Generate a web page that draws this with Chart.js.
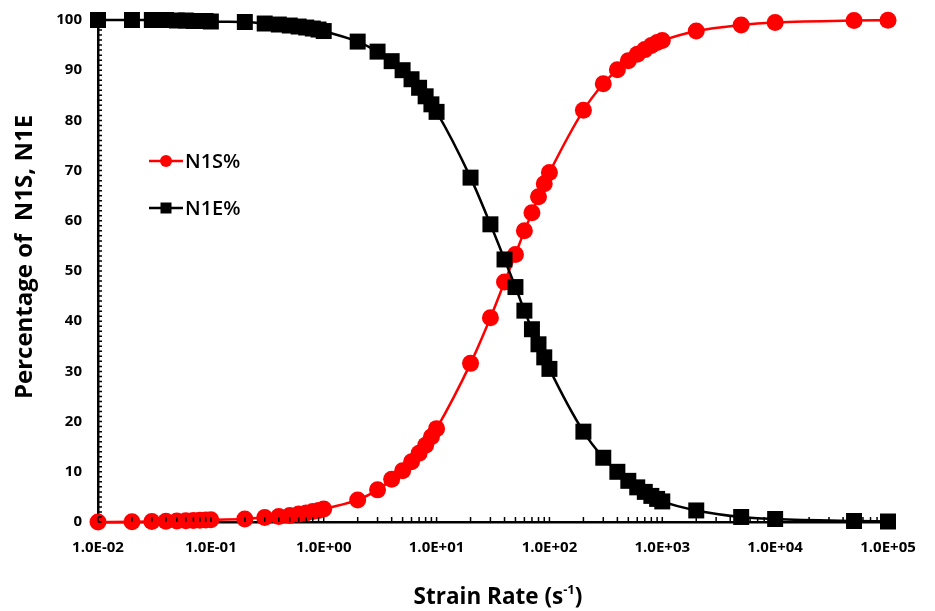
<!DOCTYPE html>
<html>
<head>
<meta charset="utf-8">
<script src="https://cdn.jsdelivr.net/npm/chart.js@4"></script>
<style>
  html, body { margin: 0; padding: 0; background: #fff; }
  #wrap { width: 935px; height: 611px; }
</style>
</head>
<body>
<div id="wrap"><canvas id="strainChart" width="935" height="611"></canvas></div>
<script>
// strain rate (s-1) for every measured point
const strainRate = [0.01, 0.02, 0.03, 0.04, 0.05, 0.06, 0.07, 0.08, 0.09, 0.1,
    0.2, 0.3, 0.4, 0.5, 0.6, 0.7, 0.8, 0.9, 1,
    2, 3, 4, 5, 6, 7, 8, 9, 10,
    20, 30, 40, 50, 60, 70, 80, 90, 100,
    200, 300, 400, 500, 600, 700, 800, 900, 1000,
    2000, 5000, 10000, 50000, 100000];

const n1s = [0, 0.05, 0.1, 0.15, 0.2, 0.25, 0.3, 0.35, 0.4, 0.45,
    0.6, 0.9, 1.1, 1.3, 1.6, 1.8, 2.1, 2.3, 2.6,
    4.4, 6.4, 8.5, 10.2, 12.0, 13.7, 15.3, 17.0, 18.6,
    31.6, 40.7, 47.8, 53.3, 58.0, 61.6, 64.8, 67.4, 69.6,
    82.0, 87.3, 90.1, 91.9, 93.2, 94.1, 94.9, 95.5, 95.9,
    97.8, 99.0, 99.5, 99.9, 99.95];

const n1e = [100, 100, 100, 100, 99.9, 99.9, 99.8, 99.8, 99.8, 99.7,
    99.6, 99.3, 99.1, 98.9, 98.7, 98.5, 98.3, 98.1, 97.8,
    95.7, 93.7, 91.8, 90.0, 88.2, 86.5, 84.8, 83.2, 81.7,
    68.6, 59.3, 52.3, 46.8, 42.1, 38.4, 35.4, 32.8, 30.5,
    18.0, 12.8, 10.0, 8.2, 6.9, 6.0, 5.2, 4.6, 4.1,
    2.3, 1.0, 0.6, 0.2, 0.1];

const xTickValues = [0.01, 0.1, 1, 10, 100, 1000, 10000, 100000];
const xTickLabels = ['1.0E-02', '1.0E-01', '1.0E+00', '1.0E+01', '1.0E+02', '1.0E+03', '1.0E+04', '1.0E+05'];
const yTickValues = [0, 10, 20, 30, 40, 50, 60, 70, 80, 90, 100];

const labelFont = { family: "'Open Sans', sans-serif", size: 15, weight: 'bold' };

// minor ticks pointing into the plot, titles and the legend
const decorations = {
    id: 'decorations',
    afterDraw(chart) {
        const ctx = chart.ctx;
        const xs = chart.scales.x;
        const ys = chart.scales.y;
        const area = chart.chartArea;
        ctx.save();
        ctx.strokeStyle = '#000';
        ctx.lineWidth = 1.5;
        ctx.beginPath();
        for (let e = -2; e <= 4; e++) {
            for (let k = 1; k <= 9; k++) {
                const px = xs.getPixelForValue(k * Math.pow(10, e));
                ctx.moveTo(px, area.bottom);
                ctx.lineTo(px, area.bottom - 5);
            }
        }
        const last = xs.getPixelForValue(100000);
        ctx.moveTo(last, area.bottom);
        ctx.lineTo(last, area.bottom - 5);
        for (let v = 0; v <= 100; v++) {
            const py = ys.getPixelForValue(v);
            ctx.moveTo(area.left, py);
            ctx.lineTo(area.left + 4, py);
        }
        ctx.stroke();

        // axis titles
        ctx.fillStyle = '#000';
        ctx.font = "bold 24px 'Open Sans', sans-serif";
        ctx.textAlign = 'center';
        ctx.textBaseline = 'middle';
        ctx.save();
        ctx.translate(25, 257);
        ctx.rotate(-Math.PI / 2);
        ctx.fillText('Percentage of  N1S, N1E', 0, 0);
        ctx.restore();

        const main = 'Strain Rate (s';
        const sup = '-1';
        const close = ')';
        ctx.textAlign = 'left';
        ctx.textBaseline = 'alphabetic';
        const bigFont = "bold 22.5px 'Open Sans', sans-serif";
        const supFont = "bold 13px 'Open Sans', sans-serif";
        ctx.font = bigFont;
        const w1 = ctx.measureText(main).width;
        const w3 = ctx.measureText(close).width;
        ctx.font = supFont;
        const w2 = ctx.measureText(sup).width;
        let tx = 498 - (w1 + w2 + w3) / 2;
        const base = 604;
        ctx.font = bigFont;
        ctx.fillText(main, tx, base);
        tx += w1;
        ctx.font = supFont;
        ctx.fillText(sup, tx, base - 10);
        tx += w2;
        ctx.font = bigFont;
        ctx.fillText(close, tx, base);

        // legend
        const rows = [
            { ds: chart.data.datasets[0], y: 161 },
            { ds: chart.data.datasets[1], y: 208 }
        ];
        rows.forEach(function (row) {
            ctx.strokeStyle = row.ds.borderColor;
            ctx.fillStyle = row.ds.borderColor;
            ctx.lineWidth = 2.5;
            ctx.beginPath();
            ctx.moveTo(149, row.y);
            ctx.lineTo(183, row.y);
            ctx.stroke();
            if (row.ds.pointStyle === 'circle') {
                ctx.beginPath();
                ctx.arc(166, row.y, 6, 0, Math.PI * 2);
                ctx.fill();
            } else {
                ctx.fillRect(160.5, row.y - 5.5, 11, 11);
            }
            ctx.fillStyle = '#000';
            ctx.font = "600 20px 'Open Sans', sans-serif";
            ctx.textBaseline = 'middle';
            ctx.fillText(row.ds.label, 185, row.y + 1);
        });
        ctx.restore();
    }
};

new Chart(document.getElementById('strainChart'), {
    type: 'line',
    data: {
        datasets: [
            {
                label: 'N1S%',
                data: strainRate.map((x, i) => ({ x: x, y: n1s[i] })),
                borderColor: '#ff0000',
                backgroundColor: '#ff0000',
                pointBackgroundColor: '#ff0000',
                pointBorderWidth: 0,
                pointStyle: 'circle',
                pointRadius: 8.5,
                borderWidth: 2.5,
                cubicInterpolationMode: 'monotone',
                clip: false,
                order: 1
            },
            {
                label: 'N1E%',
                data: strainRate.map((x, i) => ({ x: x, y: n1e[i] })),
                borderColor: '#000000',
                backgroundColor: '#000000',
                pointBackgroundColor: '#000000',
                pointBorderWidth: 0,
                pointStyle: 'rect',
                pointRadius: 11.3,
                borderWidth: 2.5,
                cubicInterpolationMode: 'monotone',
                clip: false,
                order: 0
            }
        ]
    },
    options: {
        responsive: false,
        animation: false,
        events: [],
        layout: { autoPadding: false, padding: { left: 0, right: 47, top: 20, bottom: 0 } },
        plugins: {
            legend: { display: false },
            tooltip: { enabled: false }
        },
        scales: {
            x: {
                type: 'logarithmic',
                min: 0.01,
                max: 100000,
                afterBuildTicks(scale) {
                    scale.ticks = xTickValues.map(v => ({ value: v }));
                },
                afterFit(scale) {
                    scale.height = 89;
                    scale.paddingLeft = 0;
                    scale.paddingRight = 0;
                },
                grid: { display: false, drawTicks: false },
                border: { display: true, color: '#000', width: 2.5 },
                ticks: {
                    autoSkip: false,
                    maxRotation: 0,
                    padding: 17,
                    color: '#000',
                    font: labelFont,
                    callback: (value, index) => xTickLabels[index]
                }
            },
            y: {
                type: 'linear',
                min: 0,
                max: 100,
                afterBuildTicks(scale) {
                    scale.ticks = yTickValues.map(v => ({ value: v }));
                },
                afterFit(scale) {
                    scale.width = 98;
                    scale.paddingTop = 0;
                    scale.paddingBottom = 0;
                },
                grid: { display: false, drawTicks: false },
                border: { display: true, color: '#000', width: 2.5 },
                ticks: {
                    padding: 16,
                    color: '#000',
                    font: labelFont
                }
            }
        }
    },
    plugins: [decorations]
});
</script>
</body>
</html>
